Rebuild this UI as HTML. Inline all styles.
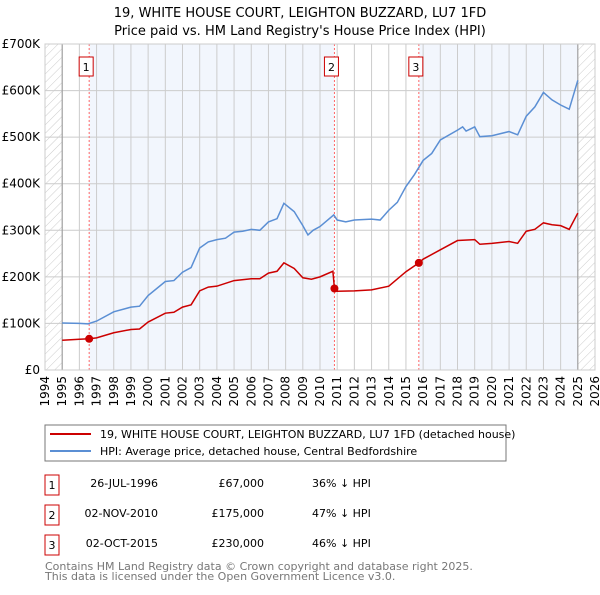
<!DOCTYPE html>
<html><head><meta charset="utf-8"><style>
body{margin:0;background:#fff;font-family:"Liberation Sans","DejaVu Sans",sans-serif;}
svg text{font-family:"DejaVu Sans","Liberation Sans",sans-serif;}
</style></head><body>
<svg id="chart" width="600" height="590" xmlns="http://www.w3.org/2000/svg">
<defs>
<pattern id="hatch" patternUnits="userSpaceOnUse" width="6" height="6" patternTransform="rotate(45)">
<line x1="0" y1="0" x2="0" y2="6" stroke="#ccc" stroke-width="1"/>
</pattern>
</defs>
<text x="300" y="17" text-anchor="middle" font-size="13">19, WHITE HOUSE COURT, LEIGHTON BUZZARD, LU7 1FD</text>
<text x="300" y="35" text-anchor="middle" font-size="13">Price paid vs. HM Land Registry's House Price Index (HPI)</text>
<g id="plot"></g>
<g>
<rect x="45" y="425" width="461" height="36" fill="#fff" stroke="#777"/>
<line x1="50" y1="434" x2="91" y2="434" stroke="#cc0000" stroke-width="2"/>
<text x="100" y="438" font-size="11">19, WHITE HOUSE COURT, LEIGHTON BUZZARD, LU7 1FD (detached house)</text>
<line x1="50" y1="451" x2="91" y2="451" stroke="#5b8fd4" stroke-width="2"/>
<text x="100" y="455" font-size="11">HPI: Average price, detached house, Central Bedfordshire</text>
</g>
<g font-size="11">
<rect x="45" y="475" width="14" height="20" fill="none" stroke="#cc0000"/><text x="52" y="489" text-anchor="middle">1</text>
<text x="158" y="487" text-anchor="end">26-JUL-1996</text><text x="264" y="487" text-anchor="end">£67,000</text><text x="312" y="487">36% ↓ HPI</text>
<rect x="45" y="505" width="14" height="20" fill="none" stroke="#cc0000"/><text x="52" y="519" text-anchor="middle">2</text>
<text x="158" y="517" text-anchor="end">02-NOV-2010</text><text x="264" y="517" text-anchor="end">£175,000</text><text x="312" y="517">47% ↓ HPI</text>
<rect x="45" y="535" width="14" height="20" fill="none" stroke="#cc0000"/><text x="52" y="549" text-anchor="middle">3</text>
<text x="158" y="547" text-anchor="end">02-OCT-2015</text><text x="264" y="547" text-anchor="end">£230,000</text><text x="312" y="547">46% ↓ HPI</text>
</g>
<text x="45" y="570" font-size="11" fill="#777">Contains HM Land Registry data © Crown copyright and database right 2025.</text>
<text x="45" y="580" font-size="11" fill="#777">This data is licensed under the Open Government Licence v3.0.</text>
</svg>
<script>
const hpiYears=[1995,1996,1996.5,1997,1998,1999,1999.5,2000,2001,2001.5,2002,2002.5,2003,2003.5,2004,2004.5,2005,2005.5,2006,2006.5,2007,2007.5,2007.9,2008.5,2009,2009.3,2009.6,2010,2010.8,2011,2011.5,2012,2013,2013.5,2014,2014.5,2015,2015.5,2016,2016.5,2017,2018,2018.3,2018.5,2019,2019.3,2020,2021,2021.5,2022,2022.5,2023,2023.5,2024,2024.5,2025];
const hpiValues=[101000,100000,99000,105000,125000,135000,137000,160000,190000,192000,210000,220000,262000,275000,280000,283000,296000,298000,302000,300000,318000,325000,358000,340000,310000,290000,300000,308000,333000,322000,318000,322000,324000,322000,343000,360000,394000,420000,450000,465000,494000,515000,522000,513000,522000,501000,503000,512000,505000,545000,565000,596000,580000,569000,560000,622000];
const priceYears=[1995,1996,1996.57,1997,1998,1999,1999.5,2000,2001,2001.5,2002,2002.5,2003,2003.5,2004,2005,2006,2006.5,2007,2007.5,2007.9,2008.5,2009,2009.5,2010,2010.75,2010.84,2011,2012,2013,2014,2015,2015.75,2016,2017,2018,2019,2019.3,2020,2021,2021.5,2022,2022.5,2023,2023.5,2024,2024.5,2025];
const priceValues=[64000,66000,67000,69000,80000,87000,88000,103000,122000,124000,135000,140000,170000,178000,180000,192000,196000,196000,208000,212000,230000,218000,198000,195000,200000,212000,175000,169000,170000,172000,180000,211000,230000,238000,258000,278000,280000,270000,272000,276000,272000,298000,302000,316000,312000,310000,302000,337000];
const saleYears=[1996.57,2010.84,2015.75];
const saleValues=[67000,175000,230000];
const saleLabels=["1","2","3"];
const yTicks=[0,100000,200000,300000,400000,500000,600000,700000];
const yTickLabels=["£0","£100K","£200K","£300K","£400K","£500K","£600K","£700K"];
const xTickYears=[1994,1995,1996,1997,1998,1999,2000,2001,2002,2003,2004,2005,2006,2007,2008,2009,2010,2011,2012,2013,2014,2015,2016,2017,2018,2019,2020,2021,2022,2023,2024,2025,2026];

const L=45,R=595,T=44,B=370,X0=1994,X1=2026,YMAX=700000;
const xs=v=>L+(v-X0)/(X1-X0)*(R-L);
const ys=v=>B-v/YMAX*(B-T);
const NS="http://www.w3.org/2000/svg";
const plot=document.getElementById('plot');
function mk(tag,attrs,parent){const e=document.createElementNS(NS,tag);for(const k in attrs)e.setAttribute(k,attrs[k]);(parent||plot).appendChild(e);return e;}

let e;
e=mk('rect',{x:L,y:T,width:R-L,height:B-T,fill:'#fff'});


e=mk('rect',{x:xs(saleYears[0]),y:T,width:xs(saleYears[1])-xs(saleYears[0]),height:B-T,fill:'#eef3fc',opacity:0.75});


e=mk('rect',{x:xs(saleYears[2]),y:T,width:xs(2025)-xs(saleYears[2]),height:B-T,fill:'#eef3fc',opacity:0.75});


e=mk('rect',{x:L,y:T,width:xs(1995)-L,height:B-T,fill:'url(#hatch)'});


e=mk('rect',{x:xs(2025),y:T,width:R-xs(2025),height:B-T,fill:'url(#hatch)'});


xTickYears.forEach((yr,i)=>{
  const g=mk('line',{x1:xs(yr),x2:xs(yr),y1:T,y2:B,stroke:'#ccc','stroke-width':1});
  
  
  const t=mk('text',{x:0,y:0,'font-size':12,'text-anchor':'end',transform:`translate(${xs(yr)+4},${B+6}) rotate(-90)`});
  t.textContent=yr;
  
  
});
yTicks.forEach((v,i)=>{
  const g=mk('line',{x1:L,x2:R,y1:ys(v),y2:ys(v),stroke:'#ccc','stroke-width':1});
  
  
  const t=mk('text',{x:40,y:ys(v)+4,'font-size':12,'text-anchor':'end'});
  t.textContent=yTickLabels[i];
  
  
});
e=mk('line',{x1:xs(1995),x2:xs(1995),y1:T,y2:B,stroke:'#999','stroke-width':1});


e=mk('line',{x1:xs(2025),x2:xs(2025),y1:T,y2:B,stroke:'#999','stroke-width':1});


saleYears.forEach((yr,i)=>{
  const l=mk('line',{x1:xs(yr),x2:xs(yr),y1:T,y2:B,stroke:'#ff6666','stroke-width':1,'stroke-dasharray':'2,2'});
  
  
  const r=mk('rect',{x:xs(yr)-10,y:T+13,width:14,height:19,fill:'#fff',stroke:'#cc0000'});
  
  
  const t=mk('text',{x:xs(yr)-3,y:T+27,'font-size':11,'text-anchor':'middle'});
  t.textContent=saleLabels[i];
  
  
});
e=mk('polyline',{points:hpiYears.map((y,i)=>xs(y)+','+ys(hpiValues[i])).join(' '),fill:'none',stroke:'#5b8fd4','stroke-width':1.5});


e=mk('polyline',{points:priceYears.map((y,i)=>xs(y)+','+ys(priceValues[i])).join(' '),fill:'none',stroke:'#cc0000','stroke-width':1.5});


saleYears.forEach((yr,i)=>{
  const c=mk('circle',{cx:xs(yr),cy:ys(saleValues[i]),r:4,fill:'#cc0000'});
  
  
});
e=mk('rect',{x:L,y:T,width:R-L,height:B-T,fill:'none',stroke:'#ccc'});


</script>
</body></html>
